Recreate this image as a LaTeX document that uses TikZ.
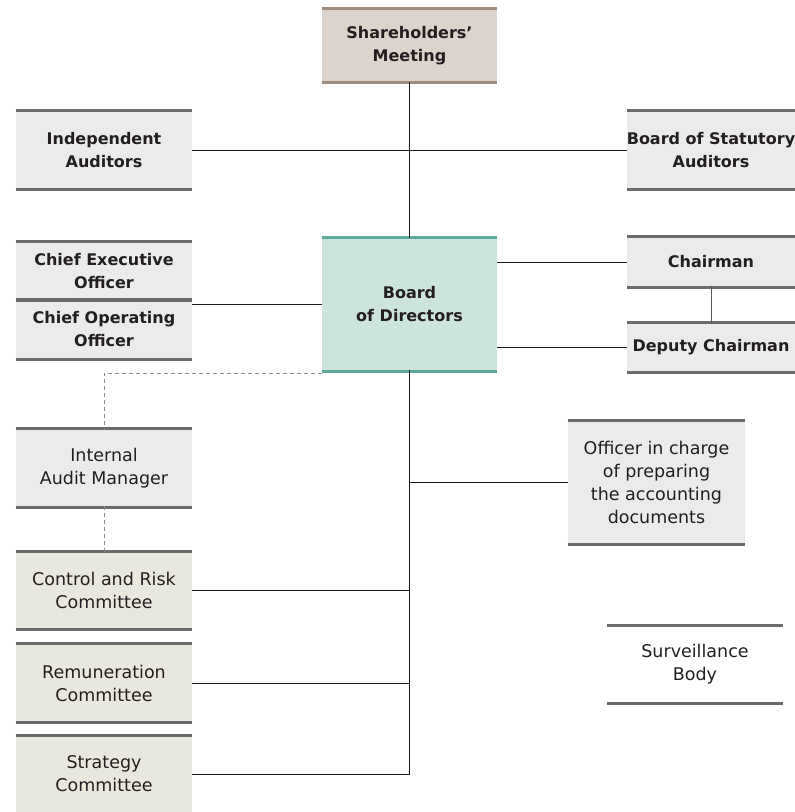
\documentclass[tikz,border=0pt]{standalone}
\usepackage{fontspec}
\setmainfont{DejaVu Sans}
\definecolor{txt}{HTML}{231F20}
\definecolor{shfill}{HTML}{DCD4CC}
\definecolor{shbar}{HTML}{9E8C7E}
\definecolor{gfill}{HTML}{EBEBED}
\definecolor{gbar}{HTML}{6B6B6B}
\definecolor{bodfill}{HTML}{CDE4DD}
\definecolor{bodbar}{HTML}{5BAA99}
\definecolor{cfill}{HTML}{E8E8DE}
\definecolor{dashgray}{HTML}{8A8A8A}
\tikzset{
  bx/.style={rectangle, inner sep=0pt, align=center, text=txt, font=\fontsize{16}{23}\selectfont\bfseries},
  rg/.style={rectangle, inner sep=0pt, align=center, text=txt, font=\fontsize{17.5}{23}\selectfont},
  conn/.style={line width=1pt, draw=black!90},
  connsoft/.style={line width=1pt, draw=black!65},
  dashedline/.style={line width=1pt, draw=dashgray, dash pattern=on 4pt off 3pt},
}
\newcommand\barsof[2]{\draw[line width=3pt,#2] (#1.north west) -- (#1.north east) (#1.south west) -- (#1.south east);}
\newcommand\topbarof[2]{\draw[line width=3pt,#2] (#1.north west) -- (#1.north east);}
\begin{document}
\begin{tikzpicture}[x=1pt,y=-1pt]
\useasboundingbox (0,0) rectangle (795,812);
% boxes
\node[bx, fill=shfill, minimum width=175pt, minimum height=73pt] (sh) at (409.5,45.5) {Shareholders’\\Meeting};
\node[bx, fill=gfill, minimum width=176pt, minimum height=78pt] (ia) at (104,150) {Independent\\Auditors};
\node[bx, fill=gfill, minimum width=168pt, minimum height=78pt] (sa) at (711,150) {Board of Statutory\\Auditors};
\node[bx, fill=gfill, minimum width=176pt, minimum height=58pt] (ceo) at (104,271) {Chief Executive\\Officer};
\node[bx, fill=gfill, minimum width=176pt, minimum height=59pt] (coo) at (104,329.5) {Chief Operating\\Officer};
\node[bx, fill=bodfill, minimum width=175pt, minimum height=133pt] (bod) at (409.5,304.5) {Board\\of Directors};
\node[bx, fill=gfill, minimum width=168pt, minimum height=50pt] (ch) at (711,262) {Chairman};
\node[bx, fill=gfill, minimum width=168pt, minimum height=49pt] (dc) at (711,347.5) {Deputy Chairman};
\node[rg, fill=gfill, minimum width=176pt, minimum height=78pt] (iam) at (104,468) {Internal\\Audit Manager};
\node[rg, fill=gfill, minimum width=177pt, minimum height=123pt] (of) at (656.5,482.5) {Officer in charge\\of preparing\\the accounting\\documents};
\node[rg, fill=cfill, minimum width=176pt, minimum height=77pt] (crc) at (104,590.5) {Control and Risk\\Committee};
\node[rg, fill=cfill, minimum width=176pt, minimum height=78pt] (rem) at (104,683) {Remuneration\\Committee};
\node[rg, fill=cfill, minimum width=176pt, minimum height=76pt] (st) at (104,774) {Strategy\\Committee};
\node[rg, minimum width=176pt, minimum height=77pt] (sv) at (695,664.5) {Surveillance\\Body};
% bars
\barsof{sh}{shbar}
\barsof{ia}{gbar}
\barsof{sa}{gbar}
\barsof{ceo}{gbar}
\barsof{coo}{gbar}
\barsof{bod}{bodbar}
\barsof{ch}{gbar}
\barsof{dc}{gbar}
\barsof{iam}{gbar}
\barsof{of}{gbar}
\barsof{crc}{gbar}
\barsof{rem}{gbar}
\topbarof{st}{gbar}
\barsof{sv}{gbar}
% connectors
\draw[conn] (sh.south) -- (bod.north);
\draw[conn] (ia.east) -- (sa.west);
\draw[conn] (coo.north east |- bod.west) -- (bod.west);
\draw[conn] (bod.east |- ch.west) -- (ch.west);
\draw[conn] (bod.east |- dc.west) -- (dc.west);
\draw[connsoft] ([yshift=1.5pt]ch.south) -- ([yshift=-1.5pt]dc.north);
\draw[dashedline] ([yshift=-2pt]bod.south west) -- ([yshift=-2pt]bod.south west -| iam.north) -- ([yshift=-1.5pt]iam.north);
\draw[dashedline] ([yshift=1.5pt]iam.south) -- ([yshift=-1.5pt]crc.north);
\draw[conn] ([yshift=1.5pt]bod.south) -- (bod.south |- st.east);
\draw[conn] (of.west) -- (of.west -| bod.south);
\draw[conn] (crc.east) -- (crc.east -| bod.south);
\draw[conn] (rem.east) -- (rem.east -| bod.south);
\draw[conn] (st.east) -- (st.east -| bod.south);
\end{tikzpicture}
\end{document}
